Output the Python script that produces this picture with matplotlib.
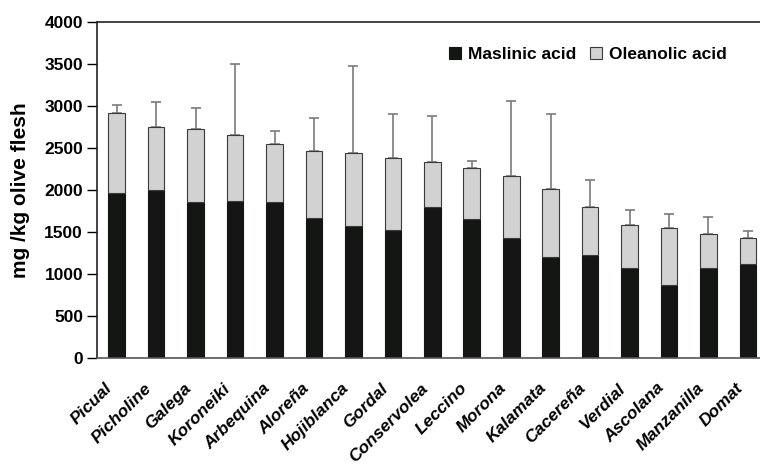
import numpy as np
import matplotlib.pyplot as plt
import matplotlib.transforms as mtransforms

plt.rcParams['font.family'] = ['Liberation Sans', 'DejaVu Sans']

# 品种与数据（mg/kg 果肉）
cultivars = ['Picual', 'Picholine', 'Galega', 'Koroneiki', 'Arbequina', 'Aloreña',
             'Hojiblanca', 'Gordal', 'Conservolea', 'Leccino', 'Morona', 'Kalamata',
             'Cacereña', 'Verdial', 'Ascolana', 'Manzanilla', 'Domat']
maslinic = [1960, 2000, 1853, 1869, 1853, 1671, 1575, 1528, 1794, 1651,
            1433, 1206, 1230, 1071, 873, 1071, 1119]
total = [2913, 2746, 2730, 2659, 2544, 2468, 2436, 2385, 2337, 2266,
         2167, 2008, 1802, 1579, 1544, 1472, 1425]
err_top = [3008, 3044, 2972, 3496, 2706, 2861, 3480, 2908, 2885, 2349,
           3060, 2901, 2119, 1766, 1718, 1679, 1516]

oleanolic = [t - m for t, m in zip(total, maslinic)]
upper_err = [e - t for e, t in zip(err_top, total)]

fig = plt.figure(figsize=(7.6, 4.65), dpi=100)
ax = fig.add_axes([0.1276, 0.2301, 0.8825, 0.7226])

x = np.arange(len(cultivars))
w = 0.42
ax.bar(x, maslinic, width=w, color='#141614', edgecolor='#141614', linewidth=0.8,
       label='Maslinic acid', zorder=2)
ax.bar(x, oleanolic, width=w, bottom=maslinic, color='#d2d2d2', edgecolor='#3a3a3a',
       linewidth=0.8, label='Oleanolic acid', zorder=2)
ax.errorbar(x, total, yerr=[np.zeros(len(x)), upper_err], fmt='none',
            ecolor='#7a7a7a', elinewidth=1.2, capsize=3.8, capthick=1.2, zorder=1)

ax.set_xlim(-0.5, len(cultivars) - 0.5)
ax.set_ylim(0, 4000)
ax.set_yticks(np.arange(0, 4001, 500))
ax.tick_params(axis='y', direction='out', length=7, width=1, labelsize=12.5, pad=3)
for lab in ax.get_yticklabels():
    lab.set_fontweight('bold')
ax.set_xticks(x)
ax.set_xticklabels(cultivars, rotation=45, ha='right', va='center',
                   rotation_mode='anchor', fontsize=12.5, fontweight='bold',
                   fontstyle='italic')
ax.tick_params(axis='x', length=0, pad=20)
# 标签整体略向左移
shift = mtransforms.ScaledTranslation(-5 / 72, 0, fig.dpi_scale_trans)
for lab in ax.get_xticklabels():
    lab.set_transform(lab.get_transform() + shift)
ax.set_ylabel('mg /kg olive flesh', fontsize=15, fontweight='bold', labelpad=10)

for s in ['left', 'top', 'bottom', 'right']:
    ax.spines[s].set_linewidth(1.2)
ax.spines['left'].set_color('#222222')
ax.spines['top'].set_color('#222222')
ax.spines['bottom'].set_color('#555555')

leg = ax.legend(loc='center', bbox_to_anchor=(0.732, 0.902), ncol=2, frameon=False,
                handlelength=0.7, handleheight=0.7, handletextpad=0.4,
                columnspacing=0.8, prop={'weight': 'bold', 'size': 12.5})

fig.savefig('out.png', dpi=100)
